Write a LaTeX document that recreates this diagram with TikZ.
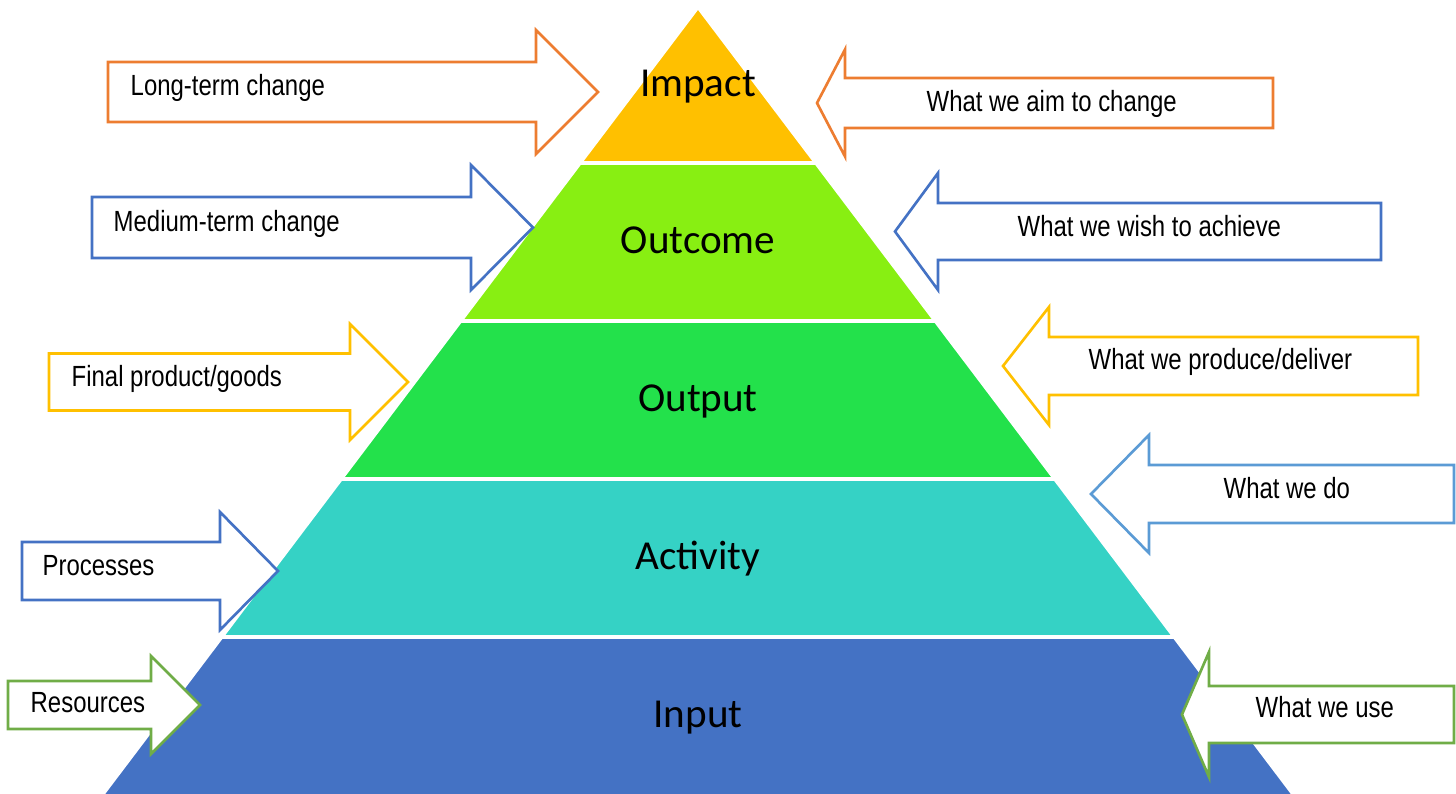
\documentclass[tikz,border=0pt]{standalone}
\usepackage{fontspec}
\setmainfont{Liberation Sans}
\newfontfamily\bandfont{Carlito}
\newfontfamily\notefont[FakeStretch=0.82]{Liberation Sans}

\definecolor{bandImpact}{HTML}{FFC000}
\definecolor{bandOutcome}{HTML}{88EF12}
\definecolor{bandOutput}{HTML}{23E14B}
\definecolor{bandActivity}{HTML}{35D2C5}
\definecolor{bandInput}{HTML}{4472C4}
\definecolor{arrowOrange}{HTML}{ED7D31}
\definecolor{arrowBlue}{HTML}{4472C4}
\definecolor{arrowGold}{HTML}{FFC000}
\definecolor{arrowSky}{HTML}{5B9BD5}
\definecolor{arrowGreen}{HTML}{70AD47}

\begin{document}
\begin{tikzpicture}[x=0.01cm, y=-0.01cm]
\tikzset{band/.style =
        {
            draw=white,
            line width=1pt
        }
}

\tikzset{band label/.style =
        {
            font=\bandfont\fontsize{11.7}{14}\selectfont,
            anchor=base,
            inner sep=0pt
        }
}

\tikzset{block/.style =
        {
            line width=0.75pt,
            fill=white,
            line join=miter
        }
}

\tikzset{note/.style =
        {
            font=\notefont\fontsize{8.3}{10}\selectfont,
            anchor=base west,
            inner sep=0pt
        }
}
		\useasboundingbox (0,0) rectangle (1456,794);

		% pyramid, apex at (698,7)
		\foreach \ya / \yb / \yl / \col / \name / \lab in
			{7/163/97/bandImpact/impact/Impact,
				163/321/254/bandOutcome/outcome/Outcome,
				321/479/412/bandOutput/output/Output,
				479/637/570/bandActivity/activity/Activity,
				637/802/728/bandInput/input/Input}
			{
				\filldraw [band, fill=\col] ({698-0.75604*(\ya-7)},\ya) -- ({698+0.75604*(\ya-7)},\ya)
				-- ({698+0.75604*(\yb-7)},\yb) -- ({698-0.75604*(\yb-7)},\yb) -- cycle;
				\node [band label] at (698,\yl) (\name) {\lab};
			}

		\foreach \xl / \xb / \xt / \ym / \bh / \hh / \col in
			{108/536/598/92/30/62/arrowOrange,
				92/471/533/227.5/30.5/62.5/arrowBlue,
				49/350/408/382/28.5/58/arrowGold,
				22/220/278/571/29/59/arrowBlue,
				8/151/200/705/24/49/arrowGreen}
		\draw [block, draw=\col] (\xl,{\ym-\bh}) -- (\xb,{\ym-\bh}) -- (\xb,{\ym-\hh}) -- (\xt,\ym)
		-- (\xb,{\ym+\hh}) -- (\xb,{\ym+\bh}) -- (\xl,{\ym+\bh}) -- cycle;

		\foreach \xr / \xb / \xt / \ym / \bh / \hh / \col in
			{1273/845/817/103/25/53.5/arrowOrange,
				1381/938/895/231.5/28.5/58.5/arrowBlue,
				1418/1049/1003/366/29/59/arrowGold,
				1454/1149/1091/494/29/59/arrowSky,
				1454/1209/1182/714.5/28.5/62.5/arrowGreen}
		\draw [block, draw=\col] (\xr,{\ym-\bh}) -- (\xb,{\ym-\bh}) -- (\xb,{\ym-\hh}) -- (\xt,\ym)
		-- (\xb,{\ym+\hh}) -- (\xb,{\ym+\bh}) -- (\xr,{\ym+\bh}) -- cycle;

		\foreach \x / \y / \name / \lab in
			{130/96/long/Long-term change,
				113/232/medium/Medium-term change,
				71/387/final/{Final product/goods},
				42/576/processes/Processes,
				30/713/resources/Resources,
				926/112/aim/What we aim to change,
				1017/237/wish/What we wish to achieve,
				1088/370/produce/{What we produce/deliver},
				1223/499/do/What we do,
				1255/718/use/What we use}
		\node [note] at (\x,\y) (\name) {\lab};

	\end{tikzpicture}
\end{document}
